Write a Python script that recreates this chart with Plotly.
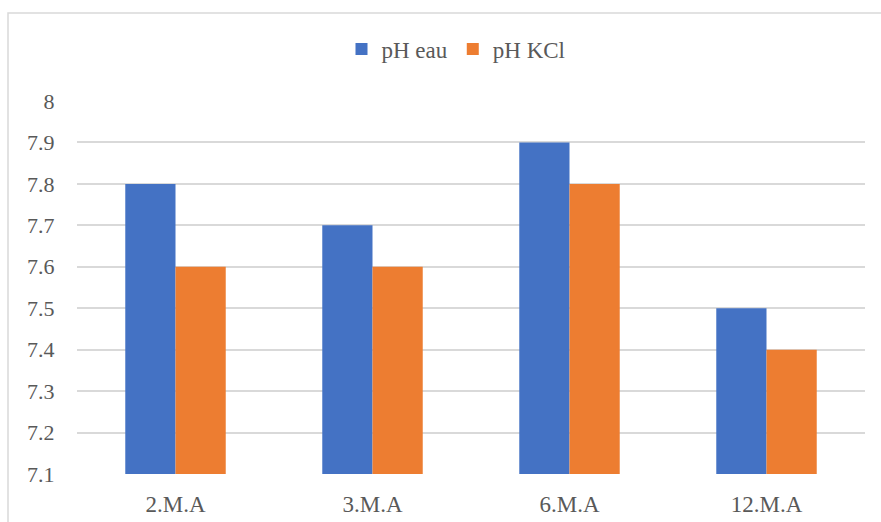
import plotly.graph_objects as go

categories = ["2.M.A", "3.M.A", "6.M.A", "12.M.A"]
ph_eau = [7.8, 7.7, 7.9, 7.5]
ph_kcl = [7.6, 7.6, 7.8, 7.4]
y_ticks = [7.1, 7.2, 7.3, 7.4, 7.5, 7.6, 7.7, 7.8, 7.9, 8.0]
y_tick_text = ["7.1", "7.2", "7.3", "7.4", "7.5", "7.6", "7.7", "7.8", "7.9", "8"]

BLUE = "#4472C4"
ORANGE = "#ED7D31"
GRID = "#D9D9D9"
TEXT = "#595959"
FONT = "Liberation Serif, Times New Roman, serif"

fig = go.Figure()
fig.add_trace(go.Bar(x=categories, y=ph_eau, name="pH eau", marker_color=BLUE,
                     marker_line_width=0))
fig.add_trace(go.Bar(x=categories, y=ph_kcl, name="pH KCl", marker_color=ORANGE,
                     marker_line_width=0))

W, H = 881, 522
L, R, T, B = 77, 16, 101, 48
pw, ph = W - L - R, H - T - B

def px_x(p):
    return (p - L) / pw

def px_y(p):
    return (H - B - p) / ph

fig.update_layout(
    width=W, height=H,
    margin=dict(l=L, r=R, t=T, b=B, pad=0, autoexpand=False),
    paper_bgcolor="white", plot_bgcolor="white",
    barmode="group", bargap=0.49, bargroupgap=0,
    font=dict(family=FONT, size=22, color=TEXT),
    showlegend=True,
    legend=dict(orientation="h", x=px_x(456), xref="paper", xanchor="center",
                y=px_y(49), yref="paper", yanchor="middle",
                font=dict(family=FONT, size=23, color=TEXT),
                traceorder="normal", bgcolor="rgba(0,0,0,0)",
                itemwidth=30),
    xaxis=dict(showgrid=False, zeroline=False, showline=False, ticks="outside",
               ticklen=9, tickcolor="rgba(0,0,0,0)",
               tickfont=dict(family=FONT, size=23, color=TEXT)),
    yaxis=dict(range=[7.1, 8.0], tickvals=y_ticks, ticktext=y_tick_text,
               showgrid=True, gridcolor=GRID, gridwidth=2, zeroline=False,
               showline=False, ticks="outside", ticklen=17,
               tickcolor="rgba(0,0,0,0)",
               tickfont=dict(family=FONT, size=22, color=TEXT)),
    shapes=[dict(type="rect", xref="paper", yref="paper",
                 x0=px_x(8), x1=px_x(895), y0=px_y(540), y1=px_y(13),
                 line=dict(color=GRID, width=1.5), fillcolor="rgba(0,0,0,0)",
                 layer="below")],
)

fig.write_html("out.html")
